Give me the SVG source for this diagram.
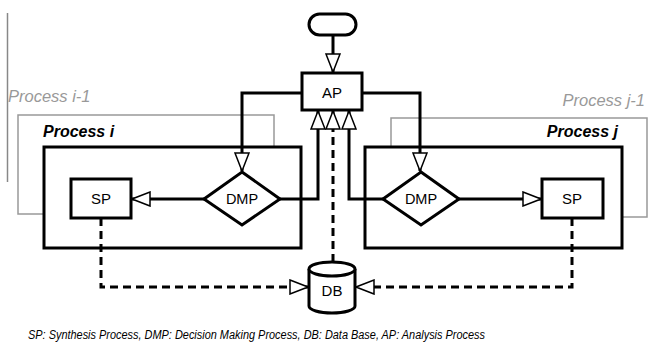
<svg xmlns="http://www.w3.org/2000/svg" width="649" height="351" viewBox="0 0 649 351">
  <style>
    .blk { fill: #fff; stroke: #000; stroke-width: 3; }
    .ghost { fill: #fff; stroke: #999; stroke-width: 1.5; }
    .wire { fill: none; stroke: #000; stroke-width: 3; }
    .dash { fill: none; stroke: #000; stroke-width: 3; stroke-dasharray: 8 5; }
    .lbl { font-family: "Liberation Sans", Arial, sans-serif; font-size: 15px; fill: #000; text-anchor: middle; }
    .ptitle { font-family: "Liberation Sans", Arial, sans-serif; font-size: 16px; font-weight: bold; font-style: italic; fill: #000; }
    .pghost { font-family: "Liberation Sans", Arial, sans-serif; font-size: 16.5px; font-style: italic; fill: #999; }
    .caption { font-family: "Liberation Sans", Arial, sans-serif; font-size: 12px; font-style: italic; fill: #000; }
  </style>
  <defs>
    <marker id="tri" viewBox="0 0 20 16" refX="19" refY="8" markerWidth="20" markerHeight="16" markerUnits="userSpaceOnUse" orient="auto">
      <path d="M1,1 L19,8 L1,15 Z" fill="#fff" stroke="#000" stroke-width="1.5"/>
    </marker>
  </defs>

  <!-- thin gray rule at the left edge -->
  <line x1="7.5" y1="13" x2="7.5" y2="182" stroke="#888" stroke-width="1.5"/>

  <!-- neighbouring processes (behind) -->
  <g id="process-i-1">
    <rect class="ghost" x="18" y="115" width="256" height="99"/>
    <text class="pghost" x="8" y="102">Process i-1</text>
  </g>
  <g id="process-j-1">
    <rect class="ghost" x="391" y="118" width="256" height="99"/>
    <text class="pghost" x="645" y="106" text-anchor="end">Process j-1</text>
  </g>

  <!-- process frames -->
  <g id="process-i">
    <rect class="blk" x="44" y="147" width="257" height="101"/>
    <text class="ptitle" x="43" y="137">Process i</text>
  </g>
  <g id="process-j">
    <rect class="blk" x="365" y="147" width="257" height="101"/>
    <text class="ptitle" x="618" y="137" text-anchor="end">Process j</text>
  </g>

  <!-- connectors -->
  <g id="connectors">
    <path class="wire" d="M333,35 V72" marker-end="url(#tri)"/>
    <path class="wire" d="M302,93 H242 V171" marker-end="url(#tri)"/>
    <path class="wire" d="M362,93 H420 V171" marker-end="url(#tri)"/>
    <path class="wire" d="M204,199 H132" marker-end="url(#tri)"/>
    <path class="wire" d="M458,199 H541" marker-end="url(#tri)"/>
    <path class="wire" d="M280,199 H318 V111" marker-end="url(#tri)"/>
    <path class="wire" d="M383,199 H349 V111" marker-end="url(#tri)"/>
    <path class="dash" d="M333,262 V111" marker-end="url(#tri)"/>
    <path class="dash" d="M101,218 V287 H308" marker-end="url(#tri)"/>
    <path class="dash" d="M572,218 V287 H356" marker-end="url(#tri)"/>
  </g>

  <!-- nodes -->
  <g id="start">
    <rect class="blk" x="309" y="14" width="47" height="21" rx="10.5"/>
  </g>
  <g id="ap">
    <rect class="blk" x="302" y="73" width="60" height="37"/>
    <text class="lbl" x="332" y="98">AP</text>
  </g>
  <g id="dmp-i">
    <polygon class="blk" points="242,172 280,199 242,225 204,199"/>
    <text class="lbl" x="242" y="204" style="font-size:14.5px">DMP</text>
  </g>
  <g id="dmp-j">
    <polygon class="blk" points="421,172 459,199 421,225 383,199"/>
    <text class="lbl" x="421" y="204" style="font-size:14.5px">DMP</text>
  </g>
  <g id="sp-i">
    <rect class="blk" x="71" y="179" width="60" height="39"/>
    <text class="lbl" x="101" y="204">SP</text>
  </g>
  <g id="sp-j">
    <rect class="blk" x="542" y="179" width="61" height="39"/>
    <text class="lbl" x="572" y="204">SP</text>
  </g>
  <g id="db">
    <path class="blk" d="M309,269 V306 A23,7 0 0 0 355,306 V269"/>
    <ellipse class="blk" cx="332" cy="269" rx="23" ry="7"/>
    <text class="lbl" x="332" y="296">DB</text>
  </g>

  <text class="caption" x="28" y="339" textLength="457" lengthAdjust="spacingAndGlyphs">SP: Synthesis Process, DMP: Decision Making Process, DB: Data Base, AP: Analysis Process</text>
</svg>
